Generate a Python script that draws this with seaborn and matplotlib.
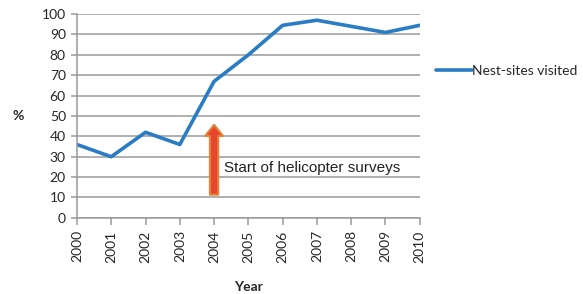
import pandas as pd
import seaborn as sns
import matplotlib.pyplot as plt

sns.set_style('white')
plt.rcParams['font.family'] = ['Lato', 'DejaVu Sans']

years = [2000, 2001, 2002, 2003, 2004, 2005, 2006, 2007, 2008, 2009, 2010]
visited = [36, 30, 42, 36, 67, 80, 94.5, 97, 94, 91, 94.5]

df = pd.DataFrame({'Year': years, 'Nest-sites visited': visited})

fig = plt.figure(figsize=(5.83, 2.94), dpi=100)
ax = fig.add_axes([0.132, 0.259, 0.588, 0.693])

sns.lineplot(x='Year', y='Nest-sites visited', data=df, ax=ax,
             color='#2a7cc4', linewidth=2.6, label='Nest-sites visited')

ax.set_xlim(2000, 2010)
ax.set_ylim(0, 100)
ax.set_yticks(range(0, 101, 10))
ax.set_xticks(years)
ax.set_xticklabels([str(y) for y in years], rotation=90)
ax.yaxis.grid(True, color='#9a9a9a', linewidth=1.1)
ax.set_axisbelow(True)

for s in ['top', 'right']:
    ax.spines[s].set_visible(False)
ax.spines['left'].set_color('#9a9a9a')
ax.spines['bottom'].set_color('#9a9a9a')
ax.spines['left'].set_linewidth(1.1)
ax.spines['bottom'].set_linewidth(1.1)
ax.tick_params(axis='x', direction='out', length=5, color='#9a9a9a', width=1.1,
               labelsize=10, pad=4)
ax.tick_params(axis='y', direction='out', length=4, color='#9a9a9a', width=1.1,
               labelsize=10, pad=4)
ax.yaxis.set_ticks_position('left')
ax.xaxis.set_ticks_position('bottom')

ax.set_ylabel('%', rotation=0, fontsize=10, fontweight='bold', va='center', ha='center')
ax.yaxis.set_label_coords(-0.17, 0.5)
ax.set_xlabel('Year', fontsize=10, fontweight='bold')
ax.xaxis.set_label_coords(0.5, -0.31)

# helicopter survey arrow
ax.annotate('', xy=(2004, 47), xytext=(2004, 10),
            arrowprops=dict(arrowstyle='simple,head_width=1.3,head_length=0.8,tail_width=0.6',
                            fc='#e8452c', ec='#e2843c', lw=1.5))
ax.text(2004.3, 24.5, 'Start of helicopter surveys', fontsize=11,
        family=['Liberation Sans', 'DejaVu Sans'], va='center', ha='left', color='#222222')

leg = ax.legend(loc='center left', bbox_to_anchor=(1.01, 0.72), frameon=False,
                fontsize=10, handlelength=2.6, handletextpad=0.05)

fig.savefig('out.png', dpi=100)
